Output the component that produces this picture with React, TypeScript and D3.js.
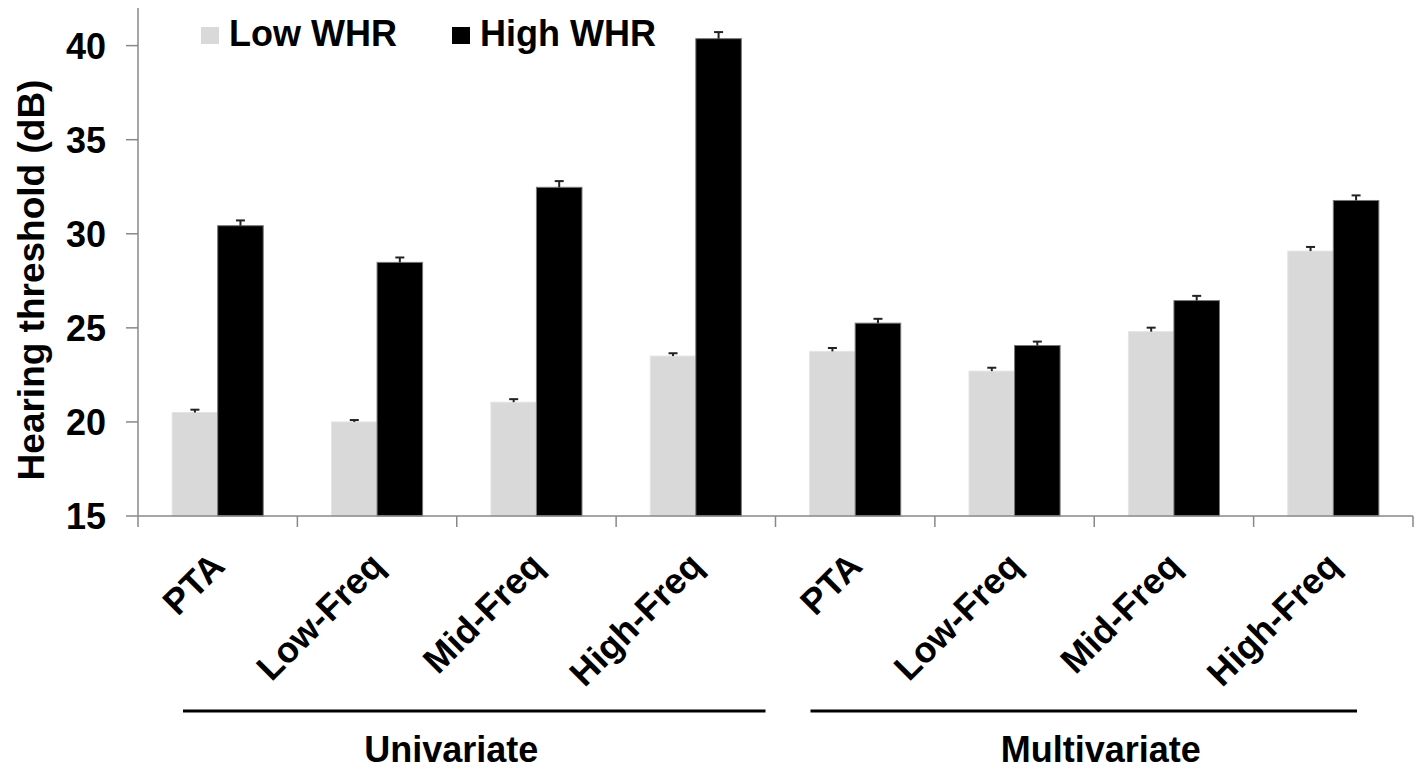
import React, { useEffect } from 'react';
import * as d3 from 'd3';

// values
const categories = ['PTA', 'Low-Freq', 'Mid-Freq', 'High-Freq', 'PTA', 'Low-Freq', 'Mid-Freq', 'High-Freq'];
const lowWHR = [20.5, 20.0, 21.05, 23.5, 23.75, 22.7, 24.8, 29.08];
const lowErr = [0.15, 0.1, 0.16, 0.15, 0.18, 0.18, 0.21, 0.22];
const highWHR = [30.43, 28.48, 32.47, 40.37, 25.25, 24.06, 26.45, 31.77];
const highErr = [0.28, 0.26, 0.33, 0.35, 0.23, 0.21, 0.25, 0.27];
const yTicks = [15, 20, 25, 30, 35, 40];
const series = ['Low WHR', 'High WHR'];
const groups = [
    { label: 'Univariate', from: 0, to: 3 },
    { label: 'Multivariate', from: 4, to: 7 },
];

const W = 1419;
const H = 770;
const FONT = '"Liberation Sans", Arial, Helvetica, sans-serif';
const colors = ['#d9d9d9', '#000000'];

function App() {
    useEffect(() => {
        document.body.style.margin = '0';
    }, []);

    const idx = categories.map((_, i) => String(i));
    const x0 = d3.scaleBand().domain(idx).range([138, 1413]).padding(0);
    const x1 = d3.scaleBand().domain(series).range([0, x0.bandwidth()]).paddingInner(0).paddingOuter(0.75);
    const y = d3.scaleLinear().domain([15, 42]).range([516, 8]);

    const bars = categories.flatMap((c, i) => [
        { i, s: series[0], v: lowWHR[i], e: lowErr[i], fill: colors[0] },
        { i, s: series[1], v: highWHR[i], e: highErr[i], fill: colors[1] },
    ]);

    const cap = 9;

    return (
        <svg width={W} height={H} style={{ display: 'block', background: '#fff' }} fontFamily={FONT}>
            {/* bars */}
            {bars.map((b, k) => {
                const bx = x0(String(b.i))! + x1(b.s)!;
                const cx = bx + x1.bandwidth() / 2;
                return (
                    <g key={k}>
                        <rect x={bx} y={y(b.v)} width={x1.bandwidth()} height={y(15) - y(b.v)}
                            fill={b.fill} stroke={b.fill === '#000000' ? '#777' : '#e4e4e4'} strokeWidth={1} />
                        <line x1={cx} x2={cx} y1={y(b.v)} y2={y(b.v + b.e)} stroke="#222" strokeWidth={2} />
                        <line x1={cx - cap / 2} x2={cx + cap / 2} y1={y(b.v + b.e)} y2={y(b.v + b.e)} stroke="#222" strokeWidth={2} />
                    </g>
                );
            })}

            {/* y axis */}
            <line x1={138} x2={138} y1={y(42)} y2={y(15)} stroke="#888" strokeWidth={1.5} />
            {yTicks.map(t => (
                <g key={t}>
                    <line x1={126} x2={138} y1={y(t)} y2={y(t)} stroke="#888" strokeWidth={1.5} />
                    <text x={106} y={y(t)} dy="0.36em" textAnchor="end" fontSize={36} fontWeight="bold">{t}</text>
                </g>
            ))}
            <text transform={`translate(44, 280) rotate(-90)`} textAnchor="middle" fontSize={37} fontWeight="bold">
                Hearing threshold (dB)
            </text>

            {/* x axis */}
            <line x1={138} x2={1413} y1={y(15)} y2={y(15)} stroke="#888" strokeWidth={1.5} />
            {[...idx.map(k => x0(k)!), 1413].map((tx, k) => (
                <line key={k} x1={tx} x2={tx} y1={y(15)} y2={y(15) + 11} stroke="#888" strokeWidth={1.5} />
            ))}
            {categories.map((c, i) => {
                const cx = x0(String(i))! + x0.bandwidth() / 2;
                return (
                    <text key={i} transform={`translate(${cx + 9}, 568) rotate(-45)`} textAnchor="end"
                        fontSize={36} fontWeight="bold">{c}</text>
                );
            })}

            {/* group brackets */}
            {groups.map((g, k) => {
                const gx1 = x0(String(g.from))! + (k === 0 ? 45 : 35);
                const gx2 = x0(String(g.to))! + x0.bandwidth() - (k === 0 ? 10 : 56);
                const mid = (gx1 + gx2) / 2 + (k === 0 ? -23 : 17);
                return (
                    <g key={g.label}>
                        <line x1={gx1} x2={gx2} y1={711} y2={711} stroke="#000" strokeWidth={3} />
                        <text x={mid} y={762} textAnchor="middle" fontSize={36} fontWeight="bold">{g.label}</text>
                    </g>
                );
            })}

            {/* legend */}
            {series.map((s, k) => {
                const lx = k === 0 ? 201 : 452;
                return (
                    <g key={s}>
                        <rect x={lx} y={27} width={18} height={17} fill={colors[k]} />
                        <text x={lx + 28} y={46} fontSize={36} fontWeight="bold">{s}</text>
                    </g>
                );
            })}
        </svg>
    );
}

export default App;
